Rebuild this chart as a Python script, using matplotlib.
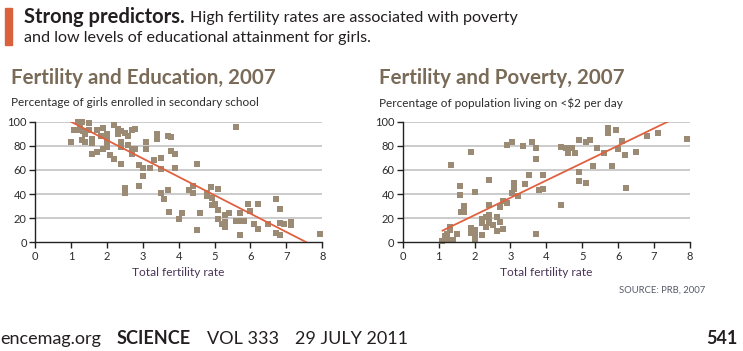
import matplotlib
matplotlib.use("Agg")
import matplotlib.pyplot as plt
from matplotlib.patches import Rectangle

plt.rcParams['font.family'] = ['Lato', 'DejaVu Sans']

# Fertility vs girls enrolled in secondary school (%)
edu_tfr = [1.0, 1.09, 1.2, 1.3, 1.2, 1.26, 1.33, 1.3, 1.4, 1.49, 1.5, 1.4, 1.6, 1.6, 1.6,
           1.72, 1.72, 1.83, 1.9, 1.9, 2.0, 2.0, 2.0, 2.0, 2.1, 2.2, 2.2, 2.3, 2.32, 2.4,
           2.4, 2.4, 2.4, 2.5, 2.5, 2.5, 2.6, 2.6, 2.7, 2.7, 2.79, 2.7, 2.79, 2.9, 2.9,
           3.0, 3.0, 3.1, 3.1, 3.2, 3.3, 3.41, 3.41, 3.5, 3.5, 3.5, 3.6, 3.7, 3.7, 3.72,
           3.8, 3.8, 3.9, 3.9, 4.0, 4.1, 4.3, 4.4, 4.4, 4.5, 4.5, 4.6, 4.8, 4.8, 4.9,
           4.93, 4.93, 5.0, 5.1, 5.1, 5.1, 5.2, 5.3, 5.3, 5.3, 5.4, 5.6, 5.6, 5.7, 5.72,
           5.72, 5.81, 5.93, 6.0, 6.1, 6.2, 6.2, 6.5, 6.72, 6.72, 6.82, 6.82, 6.82, 6.93,
           7.13, 7.13, 7.93]
edu_pct = [83, 93, 100, 100, 93, 96, 92, 85, 83, 99, 93, 90, 86, 82, 73,
           75, 93, 88, 95, 77, 90, 85, 79, 82, 72, 69, 97, 94, 90, 92,
           83, 79, 65, 91, 45, 41, 88, 81, 77, 73, 94, 93, 77, 64, 47,
           62, 55, 83, 77, 62, 68, 90, 86, 70, 61, 41, 36, 88, 43, 25,
           87, 76, 73, 62, 19, 24, 43, 47, 41, 65, 10, 24, 41, 38, 46,
           37, 31, 32, 44, 27, 19, 15, 23, 17, 13, 24, 96, 18, 24, 18,
           6, 18, 32, 26, 15, 32, 11, 15, 36, 8, 28, 16, 6, 15,
           17, 14, 7]
edu_fit_x = [1.0, 7.56]
edu_fit_y = [100, 0]

# Fertility vs population living on <$2 per day (%)
pov_tfr = [1.09, 1.18, 1.23, 1.32, 1.32, 1.32, 1.41, 1.23, 1.34, 1.52, 1.6, 1.6, 1.61,
           1.72, 1.72, 1.91, 1.91, 1.91, 2.01, 2.02, 2.02, 2.02, 2.2, 2.2, 2.2, 2.32,
           2.32, 2.41, 2.41, 2.41, 2.41, 2.41, 2.52, 2.62, 2.62, 2.71, 2.71, 2.8, 2.8,
           2.91, 2.91, 3.03, 3.03, 3.11, 3.11, 3.22, 3.34, 3.41, 3.53, 3.61, 3.71, 3.71,
           3.71, 3.8, 3.9, 3.9, 4.41, 4.41, 4.54, 4.61, 4.72, 4.8, 4.92, 4.92, 4.92,
           5.1, 5.1, 5.22, 5.31, 5.42, 5.61, 5.73, 5.73, 5.82, 5.93, 6.0, 6.12, 6.19,
           6.21, 6.5, 6.81, 7.12, 7.93]
pov_pct = [1, 5, 7, 13, 10, 2, 2, 2, 64, 7, 47, 39, 25,
           30, 25, 75, 12, 8, 10, 42, 7, 2, 6, 19, 16, 21,
           13, 52, 31, 23, 19, 16, 14, 21, 9, 29, 17, 11, 34,
           81, 33, 83, 41, 49, 44, 38, 80, 48, 56, 83, 78, 69,
           7, 43, 44, 56, 31, 79, 78, 74, 78, 74, 85, 58, 51,
           83, 49, 85, 63, 78, 74, 95, 91, 63, 93, 77, 84, 72,
           45, 75, 88, 91, 86]
pov_fit_x = [1.11, 7.38]
pov_fit_y = [9.7, 100]

x_ticks = [0, 1, 2, 3, 4, 5, 6, 7, 8]
y_ticks = [0, 20, 40, 60, 80, 100]

W, H = 743, 351
dot_color = '#9b8b74'
fit_color = '#e0613f'
title_color = '#7a6a58'
text_color = '#2b2b2b'
ink = '#231f20'

fig = plt.figure(figsize=(W / 100, H / 100), dpi=100)
renderer = fig.canvas.get_renderer()


def fx(px):
    return px / W


def fy(py):
    return 1 - py / H


def text_right_px(t):
    # right edge of a text, in pixels
    return t.get_window_extent(renderer).x1


def panel(left_px, xs, ys, fit_x, fit_y, title, subtitle):
    ax = fig.add_axes([fx(left_px), fy(242.3), fx(287.3), 120.6 / H])
    ax.set_xlim(0, 8)
    ax.set_ylim(0, 100)
    for v in y_ticks[1:]:
        ax.axhline(v, color='#bdbdbd', lw=1.1, zorder=1)
    ax.scatter(xs, ys, marker='s', s=23, color=dot_color, lw=0, zorder=2, clip_on=False)
    ax.plot(fit_x, fit_y, color=fit_color, lw=1.3, zorder=3)
    for s in ['top', 'right']:
        ax.spines[s].set_visible(False)
    for s in ['left', 'bottom']:
        ax.spines[s].set_color('#222222')
        ax.spines[s].set_linewidth(1.0)
    ax.set_xticks(x_ticks)
    ax.set_yticks(y_ticks)
    ax.tick_params(axis='both', length=4, width=1.0, color='#222222',
                   labelsize=8, labelcolor=text_color, pad=2)
    ax.set_xlabel('Total fertility rate', fontsize=8.6, color='#4a3358', labelpad=4)
    fig.text(fx(left_px - 24), fy(78), title, fontsize=14.8, fontweight='bold',
             color=title_color, va='center', ha='left')
    fig.text(fx(left_px - 24), fy(103), subtitle, fontsize=8.5, color=text_color,
             va='center', ha='left')
    return ax


panel(35, edu_tfr, edu_pct, edu_fit_x, edu_fit_y,
      'Fertility and Education, 2007', 'Percentage of girls enrolled in secondary school')
panel(402.7, pov_tfr, pov_pct, pov_fit_x, pov_fit_y,
      'Fertility and Poverty, 2007', 'Percentage of population living on <$2 per day')

# header
fig.patches.append(Rectangle((fx(5), fy(45)), fx(7), 37 / H, transform=fig.transFigure,
                             color='#d9623d', zorder=5))
t = fig.text(fx(24), fy(17), 'Strong predictors.', fontsize=14.5, fontweight='bold',
             color=ink, va='center', ha='left')
fig.text(fx(text_right_px(t) + 5), fy(18), 'High fertility rates are associated with poverty',
         fontsize=11.6, color=ink, va='center', ha='left')
fig.text(fx(24), fy(38), 'and low levels of educational attainment for girls.', fontsize=11.6,
         color=ink, va='center', ha='left')

fig.text(fx(705), fy(290), 'SOURCE: PRB, 2007', fontsize=6.8, color='#555a66',
         va='center', ha='right')

# footer
x = 0
for label, weight in [('encemag.org', 'normal'), ('SCIENCE', 'bold'),
                      ('VOL 333', 'normal'), ('29 JULY 2011', 'normal')]:
    t = fig.text(fx(x), fy(339), label, fontsize=13, fontweight=weight, color=ink,
                 va='center', ha='left')
    x = text_right_px(t) + 16
fig.text(fx(738), fy(339), '541', fontsize=13, fontweight='bold', color=ink,
         va='center', ha='right')

fig.savefig('out.png', dpi=100)
